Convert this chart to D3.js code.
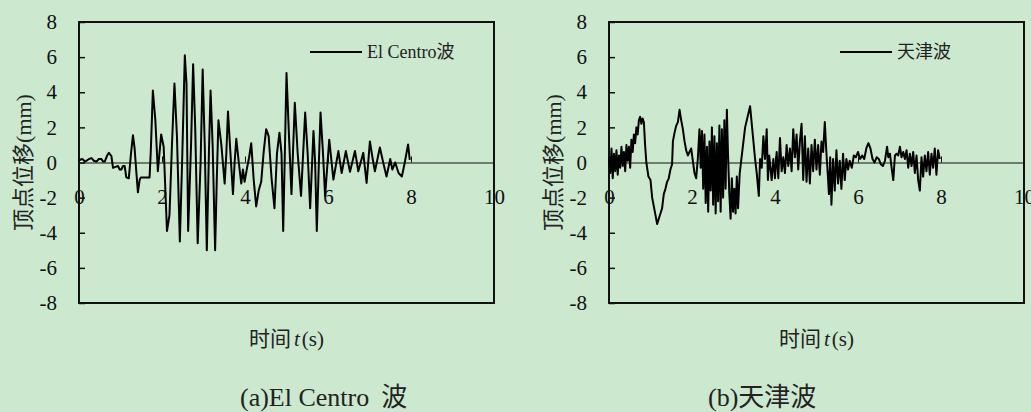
<!DOCTYPE html>
<html>
<head>
<meta charset="utf-8">
<script src="https://cdn.jsdelivr.net/npm/d3@7/dist/d3.min.js"></script>
<style>
  html, body { margin: 0; padding: 0; background: #cce8cf; }
  svg { display: block; }
</style>
</head>
<body>
<svg id="chart" width="1031" height="412"></svg>
<script>
// Axis ticks
const xTicks = [0, 2, 4, 6, 8, 10];
const yTicks = [-8, -6, -4, -2, 0, 2, 4, 6, 8];

// Top displacement under the El Centro record: time (s), displacement (mm)
const elCentroT = [
  0.00, 0.06, 0.10, 0.14, 0.18, 0.24, 0.30, 0.36, 0.42, 0.48, 0.54, 0.58, 0.62, 0.68, 0.72, 0.78,
  0.82, 0.88, 0.94, 0.98, 1.02, 1.06, 1.10, 1.14, 1.20, 1.25, 1.30, 1.34, 1.38, 1.42, 1.46, 1.49,
  1.70, 1.73, 1.78, 1.84, 1.90, 1.98, 2.04, 2.12, 2.18, 2.24, 2.30, 2.36, 2.43, 2.49, 2.55, 2.59,
  2.63, 2.70, 2.75, 2.80, 2.86, 2.93, 2.98, 3.03, 3.08, 3.13, 3.17, 3.22, 3.28, 3.32, 3.36, 3.43,
  3.51, 3.55, 3.59, 3.65, 3.71, 3.75, 3.79, 3.85, 3.91, 3.95, 3.99, 4.05, 4.10, 4.15, 4.21, 4.27,
  4.33, 4.39, 4.45, 4.51, 4.57, 4.64, 4.71, 4.77, 4.83, 4.88, 4.92, 4.96, 5.00, 5.06, 5.12, 5.20,
  5.27, 5.35, 5.45, 5.51, 5.57, 5.65, 5.69, 5.73, 5.78, 5.82, 5.88, 5.93, 6.03, 6.13, 6.25, 6.33,
  6.43, 6.53, 6.65, 6.73, 6.85, 6.93, 7.01, 7.07, 7.13, 7.25, 7.33, 7.41, 7.50, 7.55, 7.62, 7.70,
  7.78, 7.85, 7.93, 7.97
];
const elCentroV = [
  0.10, 0.20, 0.17, 0.05, 0.10, 0.20, 0.25, 0.10, 0.05, 0.20, 0.20, 0.05, 0.05, 0.40, 0.55, 0.37,
  -0.30, -0.25, -0.20, -0.40, -0.40, -0.20, -0.20, -0.85, -0.90, 0.45, 1.55, 0.80, -0.50, -1.70, -1.00, -0.85,
  -0.85, 0.65, 4.10, 2.40, -0.50, 1.60, 0.90, -3.90, -3.00, 1.00, 4.50, 1.50, -4.50, 0.50, 6.10, 4.50,
  -3.90, 1.00, 5.60, 2.00, -4.60, 0.00, 5.30, 1.00, -5.00, 0.50, 4.10, 1.00, -5.00, -1.00, 2.40, 1.00,
  -1.20, 0.50, 2.90, 0.50, -1.80, 0.00, 1.35, 0.00, -1.20, -0.40, -1.10, -0.30, 0.30, 1.10, -1.00, -2.50,
  -1.60, -1.10, 0.60, 1.90, 1.50, -0.90, -2.60, 0.50, 1.70, 0.50, -3.90, 0.50, 5.10, 1.50, -1.80, 3.40,
  0.50, -1.90, 2.84, 0.50, -2.60, 1.80, 0.00, -3.90, 0.00, 2.84, 0.50, -1.90, 1.30, -0.97, 0.65, -0.60,
  0.65, -0.53, 0.65, -0.50, 0.55, -1.16, 1.20, 0.30, -0.50, 0.85, 0.00, -0.80, 0.20, -0.40, 0.00, -0.60,
  -0.80, 0.00, 1.03, 0.15
];

// Top displacement under the Tianjin record: time (s), displacement (mm)
const tianjinT = [
  0.00, 0.03, 0.06, 0.09, 0.12, 0.15, 0.18, 0.21, 0.24, 0.27, 0.30, 0.33, 0.36, 0.39, 0.42, 0.45,
  0.48, 0.51, 0.54, 0.57, 0.60, 0.63, 0.66, 0.69, 0.72, 0.75, 0.78, 0.81, 0.84, 0.87, 0.90, 0.95,
  1.00, 1.04, 1.08, 1.12, 1.16, 1.20, 1.24, 1.28, 1.32, 1.36, 1.40, 1.44, 1.48, 1.52, 1.54, 1.58,
  1.62, 1.66, 1.70, 1.74, 1.78, 1.82, 1.86, 1.90, 1.94, 1.98, 2.02, 2.06, 2.10, 2.14, 2.18, 2.21,
  2.24, 2.27, 2.30, 2.33, 2.36, 2.39, 2.42, 2.45, 2.48, 2.51, 2.54, 2.57, 2.60, 2.63, 2.66, 2.69,
  2.72, 2.75, 2.78, 2.81, 2.84, 2.87, 2.90, 2.93, 2.96, 2.99, 3.02, 3.05, 3.08, 3.11, 3.15, 3.22,
  3.28, 3.34, 3.40, 3.44, 3.48, 3.52, 3.56, 3.61, 3.64, 3.68, 3.72, 3.76, 3.80, 3.83, 3.86, 3.89,
  3.92, 3.96, 4.00, 4.04, 4.08, 4.12, 4.16, 4.20, 4.24, 4.28, 4.32, 4.36, 4.40, 4.44, 4.48, 4.52,
  4.56, 4.60, 4.64, 4.68, 4.72, 4.76, 4.80, 4.84, 4.88, 4.92, 4.96, 5.00, 5.04, 5.08, 5.12, 5.16,
  5.20, 5.24, 5.27, 5.30, 5.33, 5.36, 5.40, 5.44, 5.48, 5.52, 5.56, 5.60, 5.64, 5.68, 5.72, 5.76,
  5.80, 5.85, 5.90, 5.95, 6.00, 6.05, 6.10, 6.15, 6.20, 6.25, 6.30, 6.35, 6.40, 6.45, 6.50, 6.55,
  6.60, 6.65, 6.70, 6.73, 6.77, 6.81, 6.85, 6.89, 6.93, 6.97, 7.01, 7.05, 7.09, 7.13, 7.17, 7.21,
  7.25, 7.29, 7.33, 7.37, 7.41, 7.45, 7.49, 7.53, 7.57, 7.61, 7.65, 7.69, 7.73, 7.77, 7.81, 7.85,
  7.89, 7.93, 7.97
];
const tianjinV = [
  0.30, -0.60, 0.80, -0.90, 0.50, -0.50, 0.70, -0.70, 0.40, -0.30, 0.90, -0.20, 0.60, -0.50, 1.00, 0.10,
  0.90, -0.30, 1.30, 0.60, 1.60, 1.10, 2.00, 1.60, 2.40, 2.60, 2.20, 2.50, 2.30, 1.00, 0.00, -0.80,
  -1.00, -2.00, -2.50, -3.00, -3.50, -3.20, -2.90, -2.60, -1.80, -1.50, -1.10, -0.90, -0.40, -0.10, 1.20, 1.70,
  2.10, 2.30, 3.00, 2.40, 1.90, 1.20, 0.70, 0.40, 0.60, 0.80, 0.10, -0.60, -0.90, 0.20, 1.90, -0.30,
  1.80, -1.50, 1.60, -2.30, 0.90, -2.80, 1.20, -1.60, 2.00, -2.40, 1.50, -2.90, 1.10, -2.20, 2.10, -2.80,
  1.90, -2.00, 2.40, -1.50, 3.00, 0.30, -1.80, -3.20, -0.90, -2.80, -1.50, -2.90, -0.80, -2.60, -0.60, 0.80,
  2.00, 2.60, 3.20, 2.20, 1.20, 0.20, -0.60, -1.90, 0.20, -0.30, 1.50, 0.20, 1.90, -1.00, 0.40, -0.30,
  -1.00, 0.20, -0.90, 0.60, -0.90, 1.40, -0.50, 0.30, -0.60, 1.00, -0.20, 0.80, -0.50, 1.90, 0.30, 1.60,
  -0.40, 1.20, 2.20, -1.00, 1.50, -1.10, 0.80, -1.20, 1.00, -0.50, 1.30, -0.40, 1.00, -0.70, 1.20, 0.60,
  2.30, 0.50, -0.60, -1.80, 0.30, -2.40, 0.20, -1.60, 0.70, -1.20, 0.10, -1.50, 0.50, -1.00, 0.20, -0.40,
  0.10, -0.30, 0.40, 0.30, 0.60, 0.20, 0.40, 0.20, 0.80, 1.10, 0.80, 0.20, 0.00, 0.30, 0.20, -0.10,
  -0.20, 0.10, 0.90, 0.30, 0.50, -0.30, -1.00, 0.40, 0.50, 0.40, 0.90, 0.30, 0.60, 0.20, 0.70, -0.30,
  0.50, -0.20, 0.60, -0.60, 0.40, -1.00, -1.60, 0.30, -0.80, 0.40, -0.50, 0.60, -0.70, 0.50, -0.30, 0.80,
  -0.70, 0.70, 0.20
];

const panels = [
  { left: 79, t: elCentroT, v: elCentroV, legend: "El Centro波", capLatin: "(a)El Centro", capCjk: "波", capGap: 12, captionX: 240 },
  { left: 609, t: tianjinT, v: tianjinV, legend: "天津波", capLatin: "(b)", capCjk: "天津波", capGap: 0, captionX: 708 }
];

const FONT = '"Liberation Serif", "Times New Roman", "Noto Sans CJK SC", serif';
const svg = d3.select("#chart");
const plotW = 415, plotTop = 22, plotBottom = 303;

panels.forEach(p => {
  const x = d3.scaleLinear().domain([0, 10]).range([p.left, p.left + plotW]);
  const y = d3.scaleLinear().domain([-8, 8]).range([plotBottom, plotTop]);
  const g = svg.append("g").style("font-family", FONT);

  // y axis: inward ticks, labels on the left
  const yAxis = g.append("g")
    .attr("transform", `translate(${p.left},0)`)
    .call(d3.axisLeft(y).tickValues(yTicks).tickFormat(d => String(d)).tickSize(-6).tickPadding(22));
  yAxis.select(".domain").remove();
  yAxis.selectAll(".tick line").attr("stroke", "#111").attr("stroke-width", 1.5);
  yAxis.selectAll("text").style("font-family", FONT).style("font-size", "21px").attr("fill", "#111");

  // x axis drawn along zero displacement
  const xAxis = g.append("g")
    .attr("transform", `translate(0,${y(0)})`)
    .call(d3.axisBottom(x).tickValues(xTicks).tickFormat(d => String(d)).tickSize(-6).tickSizeOuter(0).tickPadding(27));
  xAxis.select(".domain").attr("stroke", "#111").attr("stroke-width", 1);
  xAxis.selectAll(".tick line").attr("stroke", "#111").attr("stroke-width", 1);
  xAxis.selectAll("text").style("font-family", FONT).style("font-size", "21px").attr("fill", "#111");

  // plot frame
  g.append("rect")
    .attr("x", x(0)).attr("y", y(8))
    .attr("width", x(10) - x(0)).attr("height", y(-8) - y(8))
    .attr("fill", "none").attr("stroke", "#111").attr("stroke-width", 2);

  // response curve
  const pts = p.t.map((t, i) => ({ t, v: p.v[i] }));
  g.append("path")
    .datum(pts)
    .attr("fill", "none")
    .attr("stroke", "#000")
    .attr("stroke-width", 2)
    .attr("stroke-linejoin", "round")
    .attr("d", d3.line().x(d => x(d.t)).y(d => y(d.v)));

  // legend
  const lx = p.left + 231, ly = 52;
  g.append("line")
    .attr("x1", lx).attr("x2", lx + 52).attr("y1", ly).attr("y2", ly)
    .attr("stroke", "#000").attr("stroke-width", 2);
  g.append("text")
    .attr("x", lx + 57).attr("y", ly + 6)
    .style("font-size", "18px").attr("fill", "#222")
    .text(p.legend);

  // axis titles
  g.append("text")
    .attr("transform", `translate(${p.left - 56},${(plotTop + plotBottom) / 2}) rotate(-90)`)
    .attr("text-anchor", "middle").attr("dy", "0.35em")
    .style("font-size", "22px").attr("fill", "#222")
    .text("顶点位移(mm)");

  const xt = g.append("text")
    .attr("x", x(5)).attr("y", 346)
    .attr("text-anchor", "middle")
    .style("font-size", "21px").attr("fill", "#222");
  xt.append("tspan").text("时间");
  xt.append("tspan").attr("font-style", "italic").attr("dx", 3).text("t");
  xt.append("tspan").attr("dx", 2).text("(s)");

  // panel caption
  const cap = g.append("text")
    .attr("x", p.captionX).attr("y", 406)
    .style("font-size", "26px").attr("fill", "#222");
  cap.append("tspan").text(p.capLatin);
  cap.append("tspan").attr("dx", p.capGap).text(p.capCjk);
});
</script>
</body>
</html>
